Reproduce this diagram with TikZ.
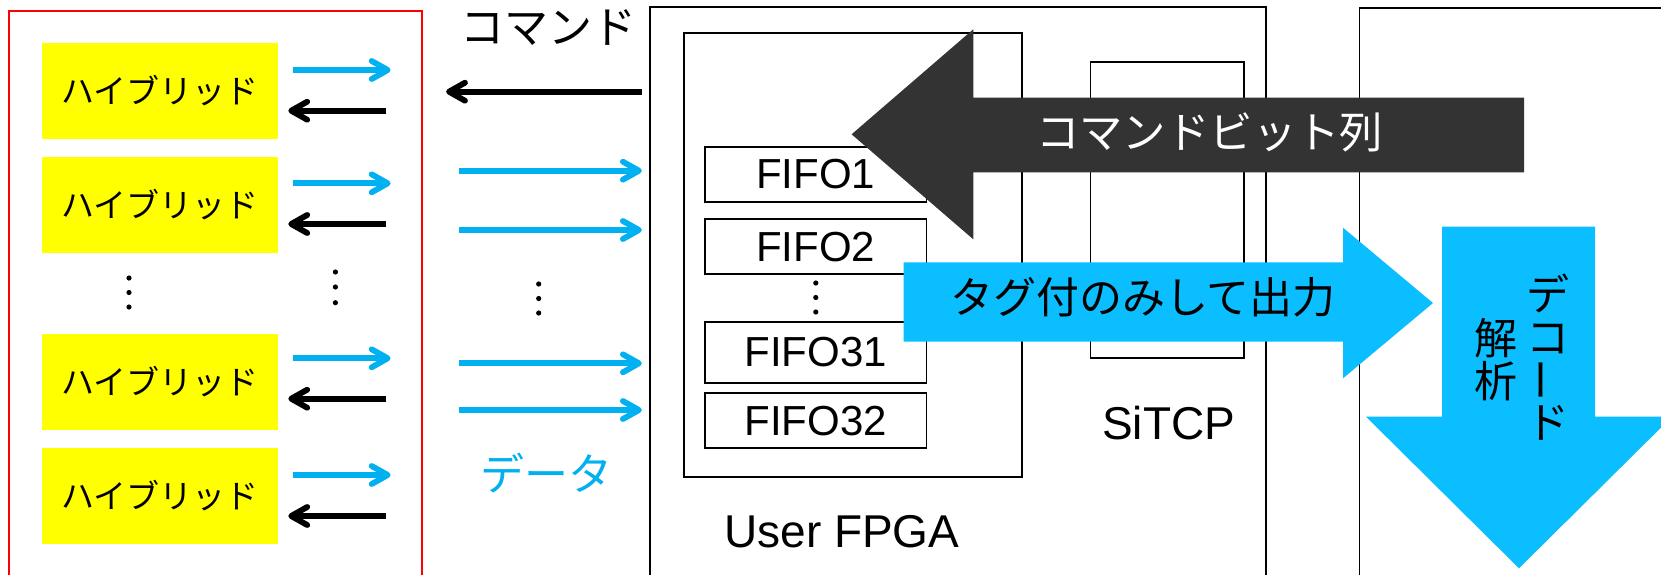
\documentclass[tikz,border=0pt]{standalone}
\usepackage{fontspec}
\setmainfont{Noto Sans CJK JP}
\newfontfamily\latinf{Liberation Sans}
\usetikzlibrary{arrows.meta}
\definecolor{cyanline}{HTML}{00B0F0}
\definecolor{bigblue}{RGB}{10,190,255}
\definecolor{darkarrow}{HTML}{333333}
\definecolor{hybyellow}{RGB}{255,255,0}
\newcommand\fsz[1]{\fontsize{#1}{#1}\selectfont}
\tikzset{
  hyb/.style={fill=hybyellow, draw=none, inner sep=0pt, minimum width=118pt, minimum height=48pt, font=\fsz{16.5pt}},
  frame/.style={draw=black, line width=0.9pt, inner sep=0pt},
  fifo/.style={frame, minimum width=110.7pt, font=\latinf\fsz{21pt}},
  lbl/.style={inner sep=0pt, anchor=center},
  tipb/.style={-{Straight Barb[length=8pt,width=9pt,round]}, line width=2.9pt},
  bluearr/.style={tipb, draw=cyanline},
  blackarr/.style={tipb, draw=black},
  dotm/.style={fill=black},
}
\begin{document}
\begin{tikzpicture}[x=0.5pt,y=-0.5pt]
\useasboundingbox (0,0) rectangle (1661,574);
\clip (0,0) rectangle (1661,574);
\fill[white] (0,0) rectangle (1661,574);

% left red frame
\node[draw=red, line width=1pt, inner sep=0pt, minimum width=206.2pt, minimum height=319.65pt] (hybframe) at (215.5,330.35) {};

% hybrid boxes
\node[hyb] (h1) at (159.7,91) {ハイブリッド};
\node[hyb] (h2) at (159.7,204.5) {ハイブリッド};
\node[hyb] (h3) at (159.7,382) {ハイブリッド};
\node[hyb] (h4) at (159.7,495.5) {ハイブリッド};

% hybrid arrows
\foreach \i/\yb/\yk in {1/70/110.7, 2/183.3/224, 3/358.3/398.7, 4/475/516}{
  \coordinate (bs\i) at (292.5,\yb);
  \coordinate (be\i) at (390.6,\yb);
  \coordinate (ks\i) at (386.4,\yk);
  \coordinate (ke\i) at (288.3,\yk);
  \draw[bluearr] (bs\i) -- (be\i);
  \draw[blackarr] (ks\i) -- (ke\i);
}

% vertical dots
\foreach \x/\ya/\yb/\yc in {129/278/292.5/307, 335.4/272/287/302.7, 538.7/284/298.5/313, 815.8/283/297.5/312}{
  \fill[dotm] (\x,\ya) circle[radius=1.3pt];
  \fill[dotm] (\x,\yb) circle[radius=1.3pt];
  \fill[dotm] (\x,\yc) circle[radius=1.3pt];
}

% command label and arrow
\node[lbl, font=\fsz{22pt}] (cmdlbl) at (548,27.5) {コマンド};
\coordinate (cmds) at (641.8,91.7);
\coordinate (cmde) at (446.1,91.7);
\draw[blackarr] (cmds) -- (cmde);

% data arrows
\foreach \i/\y in {1/170.7, 2/230, 3/363.3, 4/410}{
  \coordinate (ds\i) at (458.8,\y);
  \coordinate (de\i) at (641.8,\y);
  \draw[bluearr] (ds\i) -- (de\i);
}
\node[lbl, font=\fsz{22pt}, text=cyanline] (datalbl) at (546,473) {データ};

% FPGA frames
\node[frame, minimum width=308.25pt, minimum height=321.35pt] (fpga) at (958.05,328.65) {};
\node[frame, minimum width=169.3pt, minimum height=221.7pt] (inner) at (852.9,255) {};
\node[fifo, minimum height=27.2pt] (f1) at (815.8,174.5) {FIFO1};
\node[fifo, minimum height=27.35pt] (f2) at (815.8,246.7) {FIFO2};
\node[fifo, minimum height=30.8pt] (f31) at (815.8,352.5) {FIFO31};
\node[fifo, minimum height=27.5pt] (f32) at (815.8,420.8) {FIFO32};
\node[lbl, font=\latinf\fsz{23pt}] (fpgalbl) at (841.9,531.7) {User FPGA};

% SiTCP
\node[frame, minimum width=76.85pt, minimum height=148.3pt] (sitcp) at (1167.35,210) {};
\node[lbl, font=\latinf\fsz{23pt}] (sitcplbl) at (1168.6,423.3) {SiTCP};

% right frame
\node[frame, minimum width=180.3pt, minimum height=320.85pt] (pc) at (1539.7,329.15) {};

% big dark command arrow
\fill[darkarrow] (851.6,134.3) -- (973.3,29.3) -- (973.3,97.7) -- (1524.1,97.7)
  -- (1524.1,172.3) -- (973.3,172.3) -- (973.3,239.3) -- cycle;
\node[lbl, font=\fsz{21.7pt}, text=white] (bitslbl) at (1209.7,132.5) {コマンドビット列};

% big blue output arrow
\fill[bigblue] (903.7,262.3) -- (1343,262.3) -- (1343,227.7) -- (1433,303)
  -- (1343,378.3) -- (1343,341.7) -- (903.7,341.7) -- cycle;
\node[lbl, font=\fsz{21.5pt}] (outlbl) at (1143,297.5) {タグ付のみして出力};

% big blue down arrow
\fill[bigblue] (1442,226.7) -- (1595,226.7) -- (1595,416.7) -- (1672,416.7)
  -- (1519,568.3) -- (1366,416.7) -- (1442,416.7) -- cycle;
\node[lbl, font=\fsz{21.5pt}] (v1) at (1548,293.5) {デ};
\node[lbl, font=\fsz{21.5pt}] (v2) at (1548,339) {コ};
\node[lbl, font=\fsz{21.5pt}, rotate=90] (v3) at (1548,380) {ー};
\node[lbl, font=\fsz{21.5pt}] (v4) at (1548,423) {ド};
\node[lbl, font=\fsz{21.5pt}] (v5) at (1496,338.5) {解};
\node[lbl, font=\fsz{21.5pt}] (v6) at (1496,381.5) {析};
\end{tikzpicture}
\end{document}
